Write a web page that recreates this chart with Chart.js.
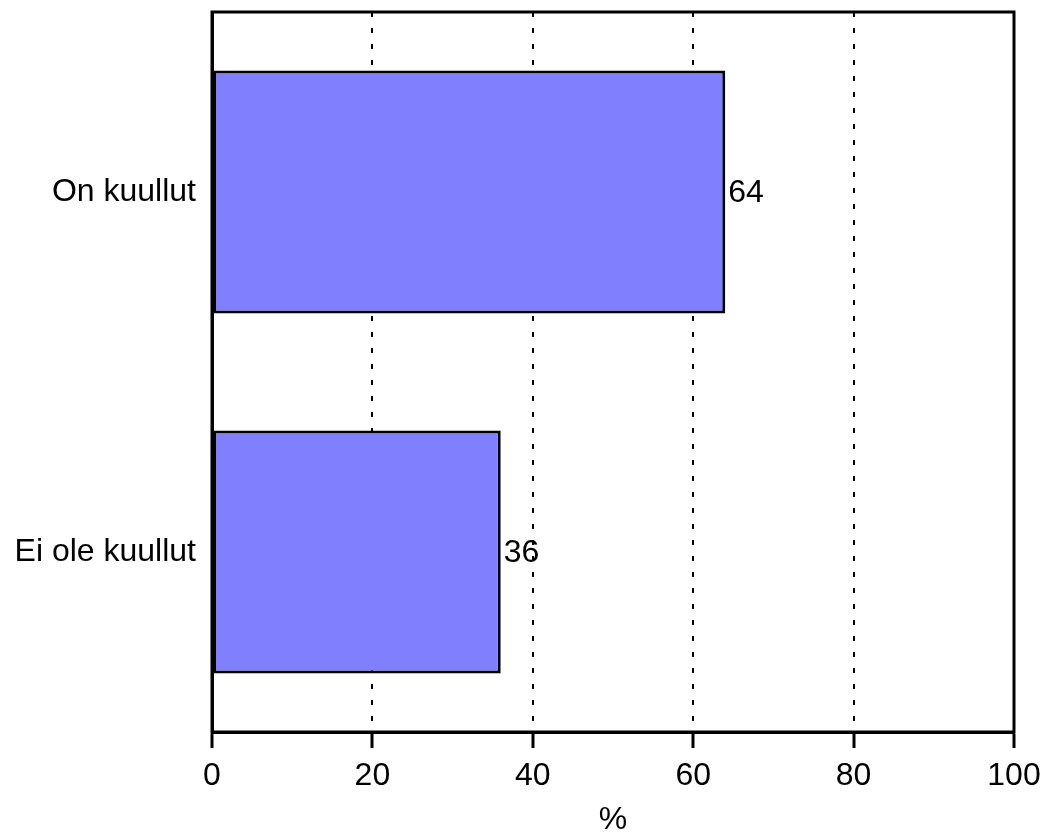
<!DOCTYPE html>
<html>
<head>
<meta charset="utf-8">
<script src="https://cdn.jsdelivr.net/npm/chart.js@4/dist/chart.umd.min.js"></script>
<style>
  body { margin: 0; background: #ffffff; }
  #chartBox { width: 1045px; height: 836px; }
</style>
</head>
<body>
<div id="chartBox"><canvas id="barChart" width="1045" height="836"></canvas></div>
<script>
// Chart data
var categories = ["On kuullut", "Ei ole kuullut"];
var percentValues = [64, 36];
var xTickValues = [0, 20, 40, 60, 80, 100];
var xAxisTitle = "%";

var fontName = "'Liberation Sans', Arial, sans-serif";
var fontSize = 32;

// Draws the value next to the end of each bar
var valueLabels = {
  id: "valueLabels",
  afterDatasetsDraw: function(chart) {
    var ctx = chart.ctx;
    var meta = chart.getDatasetMeta(0);
    ctx.save();
    ctx.font = fontSize + "px " + fontName;
    ctx.fillStyle = "#000000";
    ctx.textAlign = "left";
    ctx.textBaseline = "middle";
    meta.data.forEach(function(bar, i) {
      ctx.fillText(String(percentValues[i]), bar.x + 3, bar.y + 1);
    });
    ctx.restore();
  }
};

// Solid frame round the plot area
var plotFrame = {
  id: "plotFrame",
  afterDraw: function(chart) {
    var a = chart.chartArea;
    var ctx = chart.ctx;
    ctx.save();
    ctx.setLineDash([]);
    ctx.lineWidth = 3;
    ctx.strokeStyle = "#000000";
    ctx.strokeRect(a.left, a.top, a.right - a.left, a.bottom - a.top);
    ctx.restore();
  }
};

new Chart(document.getElementById("barChart"), {
  type: "bar",
  data: {
    labels: categories,
    datasets: [{
      data: percentValues,
      backgroundColor: "#8080ff",
      borderColor: "#000000",
      borderWidth: 3,
      borderSkipped: false,
      barPercentage: 1,
      categoryPercentage: 0.675
    }]
  },
  options: {
    indexAxis: "y",
    responsive: false,
    animation: false,
    layout: { padding: { top: 12, right: 31, left: 0, bottom: 0 } },
    plugins: {
      legend: { display: false },
      tooltip: { enabled: false }
    },
    scales: {
      x: {
        min: 0,
        max: 100,
        afterBuildTicks: function(scale) {
          scale.ticks = xTickValues.map(function(v) { return { value: v }; });
        },
        afterFit: function(scale) {
          scale.height = 104;
          scale.paddingLeft = 0;
          scale.paddingRight = 0;
        },
        grid: {
          color: "#000000",
          lineWidth: 2,
          drawTicks: true,
          tickLength: 16,
          tickColor: "#000000",
          tickWidth: 3,
          tickBorderDash: []
        },
        border: { display: true, color: "#000000", width: 3, dash: [5, 11] },
        ticks: {
          color: "#000000",
          font: { family: fontName, size: fontSize },
          padding: 9,
          maxRotation: 0
        },
        title: {
          display: true,
          text: xAxisTitle,
          color: "#000000",
          font: { family: fontName, size: fontSize, lineHeight: 1 },
          padding: { top: 0, bottom: 0 }
        }
      },
      y: {
        afterFit: function(scale) {
          scale.width = 212;
          scale.paddingTop = 0;
          scale.paddingBottom = 0;
        },
        grid: { display: false, drawTicks: false },
        border: { display: true, color: "#000000", width: 3 },
        ticks: {
          color: "#000000",
          font: { family: fontName, size: fontSize },
          padding: 16
        }
      }
    }
  },
  plugins: [valueLabels, plotFrame]
});
</script>
</body>
</html>
